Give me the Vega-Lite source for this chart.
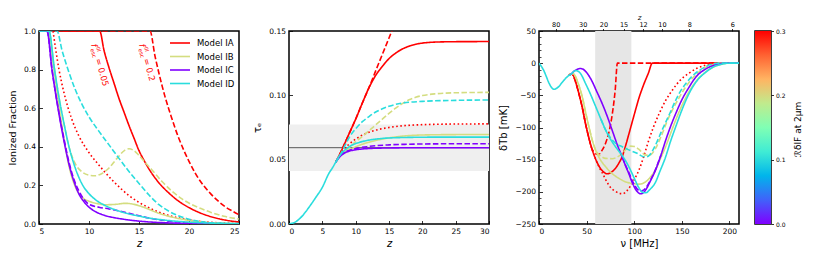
{
"$schema": "https://vega.github.io/schema/vega-lite/v6.json",
"padding": {"left": 6, "top": 12, "right": 5, "bottom": 5},
"bounds": "flush",
"spacing": 50,
"config": {
  "font": "DejaVu Sans",
  "view": {"stroke": "black", "strokeWidth": 1.5},
  "axis": {"domain": false, "grid": false, "labelOverlap": false, "tickColor": "black", "tickSize": -3.5, "tickWidth": 0.8, "labelFontSize": 7.5, "labelColor": "black", "labelPadding": 7, "titleFontSize": 9.5, "titleFontWeight": "normal", "titleColor": "black", "labelFont": "DejaVu Sans", "titleFont": "DejaVu Sans"}
},
"datasets": {
  "ann": [{"z": 10.5, "x": 0.933, "v": "= 0.05"}, {"z": 15.3, "x": 0.933, "v": "= 0.2"}],
  "p1": [
{"m":"IA","s":"solid","z":5,"x":1},{"m":"IA","s":"solid","z":11.07,"x":1},{"m":"IA","s":"solid","z":11.5,"x":0.9},{"m":"IA","s":"solid","z":12,"x":0.81},{"m":"IA","s":"solid","z":12.5,"x":0.73},{"m":"IA","s":"solid","z":13,"x":0.65},{"m":"IA","s":"solid","z":13.5,"x":0.58},{"m":"IA","s":"solid","z":14,"x":0.51},{"m":"IA","s":"solid","z":14.5,"x":0.445},{"m":"IA","s":"solid","z":15,"x":0.38},{"m":"IA","s":"solid","z":15.5,"x":0.33},{"m":"IA","s":"solid","z":16,"x":0.285},{"m":"IA","s":"solid","z":17,"x":0.213},{"m":"IA","s":"solid","z":18,"x":0.16},{"m":"IA","s":"solid","z":19,"x":0.117},{"m":"IA","s":"solid","z":20,"x":0.085},{"m":"IA","s":"solid","z":21,"x":0.06},{"m":"IA","s":"solid","z":22,"x":0.041},{"m":"IA","s":"solid","z":23,"x":0.027},{"m":"IA","s":"solid","z":24,"x":0.017},{"m":"IA","s":"solid","z":25,"x":0.01},
{"m":"IA","s":"dashed","z":5,"x":1},{"m":"IA","s":"dashed","z":16.1,"x":1},{"m":"IA","s":"dashed","z":16.6,"x":0.87},{"m":"IA","s":"dashed","z":17,"x":0.78},{"m":"IA","s":"dashed","z":17.6,"x":0.66},{"m":"IA","s":"dashed","z":18.2,"x":0.56},{"m":"IA","s":"dashed","z":18.9,"x":0.455},{"m":"IA","s":"dashed","z":19.5,"x":0.38},{"m":"IA","s":"dashed","z":20,"x":0.325},{"m":"IA","s":"dashed","z":20.6,"x":0.265},{"m":"IA","s":"dashed","z":21.3,"x":0.21},{"m":"IA","s":"dashed","z":22.2,"x":0.155},{"m":"IA","s":"dashed","z":23,"x":0.115},{"m":"IA","s":"dashed","z":23.6,"x":0.09},{"m":"IA","s":"dashed","z":24.3,"x":0.068},{"m":"IA","s":"dashed","z":25,"x":0.048},
{"m":"IA","s":"dotted","z":6.4,"x":1},{"m":"IA","s":"dotted","z":7,"x":0.8},{"m":"IA","s":"dotted","z":7.5,"x":0.68},{"m":"IA","s":"dotted","z":8.3,"x":0.54},{"m":"IA","s":"dotted","z":9,"x":0.455},{"m":"IA","s":"dotted","z":10,"x":0.37},{"m":"IA","s":"dotted","z":11,"x":0.305},{"m":"IA","s":"dotted","z":11.6,"x":0.268},{"m":"IA","s":"dotted","z":12.5,"x":0.218},{"m":"IA","s":"dotted","z":13.3,"x":0.178},{"m":"IA","s":"dotted","z":14,"x":0.147},{"m":"IA","s":"dotted","z":15,"x":0.112},{"m":"IA","s":"dotted","z":16,"x":0.084},{"m":"IA","s":"dotted","z":16.6,"x":0.07},{"m":"IA","s":"dotted","z":17.5,"x":0.052},{"m":"IA","s":"dotted","z":18.9,"x":0.032},{"m":"IA","s":"dotted","z":20,"x":0.021},{"m":"IA","s":"dotted","z":21.6,"x":0.011},{"m":"IA","s":"dotted","z":23,"x":0.006},{"m":"IA","s":"dotted","z":25,"x":0.002},
{"m":"IB","s":"solid","z":5,"x":1},{"m":"IB","s":"solid","z":5.9,"x":1},{"m":"IB","s":"solid","z":6.5,"x":0.8},{"m":"IB","s":"solid","z":7,"x":0.61},{"m":"IB","s":"solid","z":7.5,"x":0.44},{"m":"IB","s":"solid","z":8,"x":0.3},{"m":"IB","s":"solid","z":8.5,"x":0.21},{"m":"IB","s":"solid","z":9,"x":0.158},{"m":"IB","s":"solid","z":9.5,"x":0.13},{"m":"IB","s":"solid","z":10,"x":0.118},{"m":"IB","s":"solid","z":10.8,"x":0.106},{"m":"IB","s":"solid","z":11.6,"x":0.1},{"m":"IB","s":"solid","z":12.5,"x":0.101},{"m":"IB","s":"solid","z":13.6,"x":0.107},{"m":"IB","s":"solid","z":14.3,"x":0.104},{"m":"IB","s":"solid","z":15,"x":0.095},{"m":"IB","s":"solid","z":15.8,"x":0.08},{"m":"IB","s":"solid","z":16.6,"x":0.063},{"m":"IB","s":"solid","z":17.5,"x":0.047},{"m":"IB","s":"solid","z":18.3,"x":0.036},{"m":"IB","s":"solid","z":19.5,"x":0.023},{"m":"IB","s":"solid","z":20.6,"x":0.014},{"m":"IB","s":"solid","z":22,"x":0.007},{"m":"IB","s":"solid","z":23.2,"x":0.004},{"m":"IB","s":"solid","z":25,"x":0.001},
{"m":"IB","s":"dashed","z":5,"x":1},{"m":"IB","s":"dashed","z":6,"x":1},{"m":"IB","s":"dashed","z":6.5,"x":0.82},{"m":"IB","s":"dashed","z":7,"x":0.655},{"m":"IB","s":"dashed","z":7.5,"x":0.52},{"m":"IB","s":"dashed","z":8,"x":0.4},{"m":"IB","s":"dashed","z":8.6,"x":0.315},{"m":"IB","s":"dashed","z":9.3,"x":0.27},{"m":"IB","s":"dashed","z":10,"x":0.253},{"m":"IB","s":"dashed","z":10.6,"x":0.25},{"m":"IB","s":"dashed","z":11.3,"x":0.262},{"m":"IB","s":"dashed","z":12,"x":0.29},{"m":"IB","s":"dashed","z":12.8,"x":0.34},{"m":"IB","s":"dashed","z":13.6,"x":0.383},{"m":"IB","s":"dashed","z":14,"x":0.39},{"m":"IB","s":"dashed","z":14.5,"x":0.38},{"m":"IB","s":"dashed","z":15,"x":0.355},{"m":"IB","s":"dashed","z":15.6,"x":0.32},{"m":"IB","s":"dashed","z":16.3,"x":0.28},{"m":"IB","s":"dashed","z":17.3,"x":0.22},{"m":"IB","s":"dashed","z":18.3,"x":0.17},{"m":"IB","s":"dashed","z":19.3,"x":0.13},{"m":"IB","s":"dashed","z":20.3,"x":0.1},{"m":"IB","s":"dashed","z":21.2,"x":0.08},{"m":"IB","s":"dashed","z":22.2,"x":0.06},{"m":"IB","s":"dashed","z":23.5,"x":0.04},{"m":"IB","s":"dashed","z":25,"x":0.026},
{"m":"IC","s":"solid","z":5,"x":1},{"m":"IC","s":"solid","z":5.8,"x":1},{"m":"IC","s":"solid","z":6.3,"x":0.8},{"m":"IC","s":"solid","z":7,"x":0.57},{"m":"IC","s":"solid","z":7.5,"x":0.43},{"m":"IC","s":"solid","z":8,"x":0.31},{"m":"IC","s":"solid","z":8.5,"x":0.22},{"m":"IC","s":"solid","z":9,"x":0.155},{"m":"IC","s":"solid","z":9.5,"x":0.115},{"m":"IC","s":"solid","z":10,"x":0.087},{"m":"IC","s":"solid","z":10.8,"x":0.06},{"m":"IC","s":"solid","z":11.6,"x":0.044},{"m":"IC","s":"solid","z":12.5,"x":0.033},{"m":"IC","s":"solid","z":13.3,"x":0.026},{"m":"IC","s":"solid","z":15,"x":0.015},{"m":"IC","s":"solid","z":16.5,"x":0.009},{"m":"IC","s":"solid","z":18.3,"x":0.005},{"m":"IC","s":"solid","z":20,"x":0.003},{"m":"IC","s":"solid","z":25,"x":0.001},
{"m":"IC","s":"dashed","z":5,"x":1},{"m":"IC","s":"dashed","z":5.8,"x":1},{"m":"IC","s":"dashed","z":6.3,"x":0.8},{"m":"IC","s":"dashed","z":7,"x":0.575},{"m":"IC","s":"dashed","z":7.5,"x":0.44},{"m":"IC","s":"dashed","z":8,"x":0.32},{"m":"IC","s":"dashed","z":8.5,"x":0.23},{"m":"IC","s":"dashed","z":9,"x":0.17},{"m":"IC","s":"dashed","z":9.5,"x":0.127},{"m":"IC","s":"dashed","z":10,"x":0.102},{"m":"IC","s":"dashed","z":11,"x":0.087},{"m":"IC","s":"dashed","z":12,"x":0.078},{"m":"IC","s":"dashed","z":13,"x":0.068},{"m":"IC","s":"dashed","z":14,"x":0.055},{"m":"IC","s":"dashed","z":15,"x":0.043},{"m":"IC","s":"dashed","z":16,"x":0.031},{"m":"IC","s":"dashed","z":17,"x":0.022},{"m":"IC","s":"dashed","z":18,"x":0.015},{"m":"IC","s":"dashed","z":20,"x":0.006},{"m":"IC","s":"dashed","z":22,"x":0.002},{"m":"IC","s":"dashed","z":25,"x":0.0005},
{"m":"ID","s":"solid","z":5,"x":1},{"m":"ID","s":"solid","z":6,"x":1},{"m":"ID","s":"solid","z":6.5,"x":0.82},{"m":"ID","s":"solid","z":7,"x":0.655},{"m":"ID","s":"solid","z":7.5,"x":0.52},{"m":"ID","s":"solid","z":8,"x":0.4},{"m":"ID","s":"solid","z":8.5,"x":0.31},{"m":"ID","s":"solid","z":9,"x":0.24},{"m":"ID","s":"solid","z":9.5,"x":0.19},{"m":"ID","s":"solid","z":10,"x":0.157},{"m":"ID","s":"solid","z":10.8,"x":0.12},{"m":"ID","s":"solid","z":11.6,"x":0.096},{"m":"ID","s":"solid","z":12.5,"x":0.076},{"m":"ID","s":"solid","z":13.3,"x":0.062},{"m":"ID","s":"solid","z":14,"x":0.052},{"m":"ID","s":"solid","z":15,"x":0.041},{"m":"ID","s":"solid","z":16,"x":0.031},{"m":"ID","s":"solid","z":17.6,"x":0.02},{"m":"ID","s":"solid","z":19.9,"x":0.01},{"m":"ID","s":"solid","z":22,"x":0.005},{"m":"ID","s":"solid","z":25,"x":0.002},
{"m":"ID","s":"dashed","z":5,"x":1},{"m":"ID","s":"dashed","z":6.8,"x":1},{"m":"ID","s":"dashed","z":7.3,"x":0.9},{"m":"ID","s":"dashed","z":8,"x":0.785},{"m":"ID","s":"dashed","z":8.6,"x":0.7},{"m":"ID","s":"dashed","z":9.3,"x":0.62},{"m":"ID","s":"dashed","z":10,"x":0.555},{"m":"ID","s":"dashed","z":11,"x":0.48},{"m":"ID","s":"dashed","z":12,"x":0.41},{"m":"ID","s":"dashed","z":13,"x":0.34},{"m":"ID","s":"dashed","z":14,"x":0.272},{"m":"ID","s":"dashed","z":15,"x":0.21},{"m":"ID","s":"dashed","z":16,"x":0.15},{"m":"ID","s":"dashed","z":17,"x":0.1},{"m":"ID","s":"dashed","z":18,"x":0.066},{"m":"ID","s":"dashed","z":19,"x":0.041},{"m":"ID","s":"dashed","z":20,"x":0.025},{"m":"ID","s":"dashed","z":21,"x":0.014},{"m":"ID","s":"dashed","z":22.2,"x":0.006},{"m":"ID","s":"dashed","z":25,"x":0.001}
  ],
  "p2": [
{"m":"IA","s":"solid","z":7,"t":0.048},{"m":"IA","s":"solid","z":7.5,"t":0.053},{"m":"IA","s":"solid","z":8,"t":0.0585},{"m":"IA","s":"solid","z":9,"t":0.07},{"m":"IA","s":"solid","z":10,"t":0.0815},{"m":"IA","s":"solid","z":11,"t":0.094},{"m":"IA","s":"solid","z":12,"t":0.106},{"m":"IA","s":"solid","z":12.5,"t":0.111},{"m":"IA","s":"solid","z":13,"t":0.1155},{"m":"IA","s":"solid","z":14,"t":0.1225},{"m":"IA","s":"solid","z":15,"t":0.1285},{"m":"IA","s":"solid","z":16,"t":0.1328},{"m":"IA","s":"solid","z":17,"t":0.136},{"m":"IA","s":"solid","z":18,"t":0.1382},{"m":"IA","s":"solid","z":19,"t":0.1397},{"m":"IA","s":"solid","z":20,"t":0.1406},{"m":"IA","s":"solid","z":22,"t":0.1414},{"m":"IA","s":"solid","z":25,"t":0.1417},{"m":"IA","s":"solid","z":30,"t":0.1418},
{"m":"IA","s":"dashed","z":7,"t":0.048},{"m":"IA","s":"dashed","z":7.5,"t":0.053},{"m":"IA","s":"dashed","z":8,"t":0.0585},{"m":"IA","s":"dashed","z":9,"t":0.07},{"m":"IA","s":"dashed","z":10,"t":0.0815},{"m":"IA","s":"dashed","z":11,"t":0.094},{"m":"IA","s":"dashed","z":12,"t":0.106},{"m":"IA","s":"dashed","z":13,"t":0.119},{"m":"IA","s":"dashed","z":14,"t":0.1318},{"m":"IA","s":"dashed","z":15,"t":0.1446},{"m":"IA","s":"dashed","z":15.9,"t":0.156},
{"m":"IA","s":"dotted","z":7,"t":0.048},{"m":"IA","s":"dotted","z":7.5,"t":0.053},{"m":"IA","s":"dotted","z":8,"t":0.0565},{"m":"IA","s":"dotted","z":9,"t":0.062},{"m":"IA","s":"dotted","z":10,"t":0.066},{"m":"IA","s":"dotted","z":11,"t":0.069},{"m":"IA","s":"dotted","z":12.4,"t":0.072},{"m":"IA","s":"dotted","z":15,"t":0.075},{"m":"IA","s":"dotted","z":20,"t":0.0772},{"m":"IA","s":"dotted","z":25,"t":0.0777},{"m":"IA","s":"dotted","z":30,"t":0.0778},
{"m":"IB","s":"solid","z":7,"t":0.048},{"m":"IB","s":"solid","z":7.5,"t":0.052},{"m":"IB","s":"solid","z":8,"t":0.0548},{"m":"IB","s":"solid","z":9,"t":0.0575},{"m":"IB","s":"solid","z":10,"t":0.06},{"m":"IB","s":"solid","z":11,"t":0.062},{"m":"IB","s":"solid","z":12,"t":0.0636},{"m":"IB","s":"solid","z":14,"t":0.066},{"m":"IB","s":"solid","z":16,"t":0.0677},{"m":"IB","s":"solid","z":18,"t":0.0687},{"m":"IB","s":"solid","z":21,"t":0.0693},{"m":"IB","s":"solid","z":25,"t":0.0695},{"m":"IB","s":"solid","z":30,"t":0.0696},
{"m":"IB","s":"dashed","z":7,"t":0.048},{"m":"IB","s":"dashed","z":7.5,"t":0.052},{"m":"IB","s":"dashed","z":8,"t":0.0548},{"m":"IB","s":"dashed","z":9,"t":0.059},{"m":"IB","s":"dashed","z":10,"t":0.064},{"m":"IB","s":"dashed","z":11,"t":0.068},{"m":"IB","s":"dashed","z":12,"t":0.0725},{"m":"IB","s":"dashed","z":13,"t":0.077},{"m":"IB","s":"dashed","z":14,"t":0.0815},{"m":"IB","s":"dashed","z":15,"t":0.086},{"m":"IB","s":"dashed","z":16,"t":0.09},{"m":"IB","s":"dashed","z":17,"t":0.0935},{"m":"IB","s":"dashed","z":18,"t":0.0965},{"m":"IB","s":"dashed","z":19,"t":0.0985},{"m":"IB","s":"dashed","z":20,"t":0.0998},{"m":"IB","s":"dashed","z":22,"t":0.1012},{"m":"IB","s":"dashed","z":25,"t":0.102},{"m":"IB","s":"dashed","z":30,"t":0.1023},
{"m":"IC","s":"solid","z":7,"t":0.048},{"m":"IC","s":"solid","z":7.5,"t":0.0515},{"m":"IC","s":"solid","z":8,"t":0.054},{"m":"IC","s":"solid","z":8.5,"t":0.0556},{"m":"IC","s":"solid","z":9,"t":0.0566},{"m":"IC","s":"solid","z":10,"t":0.0577},{"m":"IC","s":"solid","z":11,"t":0.0583},{"m":"IC","s":"solid","z":12,"t":0.0587},{"m":"IC","s":"solid","z":15,"t":0.0591},{"m":"IC","s":"solid","z":20,"t":0.0593},{"m":"IC","s":"solid","z":30,"t":0.0593},
{"m":"IC","s":"dashed","z":7,"t":0.048},{"m":"IC","s":"dashed","z":7.5,"t":0.052},{"m":"IC","s":"dashed","z":8,"t":0.0545},{"m":"IC","s":"dashed","z":9,"t":0.0572},{"m":"IC","s":"dashed","z":10,"t":0.0587},{"m":"IC","s":"dashed","z":12,"t":0.0603},{"m":"IC","s":"dashed","z":15,"t":0.0615},{"m":"IC","s":"dashed","z":18,"t":0.062},{"m":"IC","s":"dashed","z":22,"t":0.0623},{"m":"IC","s":"dashed","z":30,"t":0.0624},
{"m":"ID","s":"dashed","z":7,"t":0.048},{"m":"ID","s":"dashed","z":7.5,"t":0.052},{"m":"ID","s":"dashed","z":8,"t":0.057},{"m":"ID","s":"dashed","z":8.5,"t":0.062},{"m":"ID","s":"dashed","z":9,"t":0.067},{"m":"ID","s":"dashed","z":10,"t":0.074},{"m":"ID","s":"dashed","z":11,"t":0.0795},{"m":"ID","s":"dashed","z":12,"t":0.0835},{"m":"ID","s":"dashed","z":13,"t":0.087},{"m":"ID","s":"dashed","z":14,"t":0.0895},{"m":"ID","s":"dashed","z":15,"t":0.0915},{"m":"ID","s":"dashed","z":17,"t":0.094},{"m":"ID","s":"dashed","z":20,"t":0.0953},{"m":"ID","s":"dashed","z":25,"t":0.0961},{"m":"ID","s":"dashed","z":30,"t":0.0964},
{"m":"ID","s":"solid","z":0,"t":0},{"m":"ID","s":"solid","z":1,"t":0.0017},{"m":"ID","s":"solid","z":2,"t":0.0063},{"m":"ID","s":"solid","z":2.5,"t":0.0095},{"m":"ID","s":"solid","z":3,"t":0.013},{"m":"ID","s":"solid","z":4,"t":0.0205},{"m":"ID","s":"solid","z":5,"t":0.0285},{"m":"ID","s":"solid","z":6,"t":0.0395},{"m":"ID","s":"solid","z":6.5,"t":0.0435},{"m":"ID","s":"solid","z":7,"t":0.048},{"m":"ID","s":"solid","z":7.5,"t":0.0525},{"m":"ID","s":"solid","z":8,"t":0.0556},{"m":"ID","s":"solid","z":8.5,"t":0.058},{"m":"ID","s":"solid","z":9,"t":0.06},{"m":"ID","s":"solid","z":10,"t":0.0625},{"m":"ID","s":"solid","z":11,"t":0.0641},{"m":"ID","s":"solid","z":12,"t":0.0652},{"m":"ID","s":"solid","z":14,"t":0.0665},{"m":"ID","s":"solid","z":17,"t":0.0672},{"m":"ID","s":"solid","z":22,"t":0.0675},{"m":"ID","s":"solid","z":30,"t":0.0675}
  ],
  "p3": [
{"m":"IA","s":"solid","n":31.5,"T":-19},{"m":"IA","s":"solid","n":34,"T":-16.5},{"m":"IA","s":"solid","n":36,"T":-19},{"m":"IA","s":"solid","n":38,"T":-27},{"m":"IA","s":"solid","n":40,"T":-37},{"m":"IA","s":"solid","n":42,"T":-48},{"m":"IA","s":"solid","n":45,"T":-66},{"m":"IA","s":"solid","n":49,"T":-95},{"m":"IA","s":"solid","n":52,"T":-114},{"m":"IA","s":"solid","n":56,"T":-135},{"m":"IA","s":"solid","n":60,"T":-151},{"m":"IA","s":"solid","n":63,"T":-160},{"m":"IA","s":"solid","n":67,"T":-168},{"m":"IA","s":"solid","n":71.5,"T":-172},{"m":"IA","s":"solid","n":75,"T":-170.5},{"m":"IA","s":"solid","n":78,"T":-167},{"m":"IA","s":"solid","n":81,"T":-162},{"m":"IA","s":"solid","n":84,"T":-155},{"m":"IA","s":"solid","n":87.4,"T":-145},{"m":"IA","s":"solid","n":91,"T":-128},{"m":"IA","s":"solid","n":94.4,"T":-110},{"m":"IA","s":"solid","n":100,"T":-80},{"m":"IA","s":"solid","n":105,"T":-54},{"m":"IA","s":"solid","n":110,"T":-33},{"m":"IA","s":"solid","n":115,"T":-15},{"m":"IA","s":"solid","n":119,"T":0},{"m":"IA","s":"solid","n":210,"T":0},
{"m":"IA","s":"dashed","n":31.5,"T":-19},{"m":"IA","s":"dashed","n":34,"T":-16.5},{"m":"IA","s":"dashed","n":36,"T":-19},{"m":"IA","s":"dashed","n":38,"T":-27},{"m":"IA","s":"dashed","n":40,"T":-37},{"m":"IA","s":"dashed","n":42,"T":-48},{"m":"IA","s":"dashed","n":45,"T":-66},{"m":"IA","s":"dashed","n":49,"T":-95},{"m":"IA","s":"dashed","n":52,"T":-114},{"m":"IA","s":"dashed","n":55,"T":-131},{"m":"IA","s":"dashed","n":57.5,"T":-138},{"m":"IA","s":"dashed","n":60,"T":-141},{"m":"IA","s":"dashed","n":63,"T":-141.5},{"m":"IA","s":"dashed","n":66,"T":-136},{"m":"IA","s":"dashed","n":70,"T":-124},{"m":"IA","s":"dashed","n":73,"T":-110},{"m":"IA","s":"dashed","n":76,"T":-88},{"m":"IA","s":"dashed","n":78,"T":-68},{"m":"IA","s":"dashed","n":80,"T":-42},{"m":"IA","s":"dashed","n":82.3,"T":0},{"m":"IA","s":"dashed","n":210,"T":0},
{"m":"IA","s":"dotted","n":31.5,"T":-19},{"m":"IA","s":"dotted","n":34,"T":-16.5},{"m":"IA","s":"dotted","n":36,"T":-19},{"m":"IA","s":"dotted","n":38,"T":-27},{"m":"IA","s":"dotted","n":40,"T":-37},{"m":"IA","s":"dotted","n":42,"T":-48},{"m":"IA","s":"dotted","n":45,"T":-66},{"m":"IA","s":"dotted","n":49,"T":-95},{"m":"IA","s":"dotted","n":52,"T":-114},{"m":"IA","s":"dotted","n":56,"T":-135},{"m":"IA","s":"dotted","n":60,"T":-151},{"m":"IA","s":"dotted","n":63,"T":-161},{"m":"IA","s":"dotted","n":67,"T":-172},{"m":"IA","s":"dotted","n":70,"T":-181},{"m":"IA","s":"dotted","n":75,"T":-193},{"m":"IA","s":"dotted","n":80,"T":-199},{"m":"IA","s":"dotted","n":85,"T":-202.5},{"m":"IA","s":"dotted","n":88,"T":-203},{"m":"IA","s":"dotted","n":92,"T":-199},{"m":"IA","s":"dotted","n":96,"T":-191},{"m":"IA","s":"dotted","n":100,"T":-181},{"m":"IA","s":"dotted","n":105,"T":-166},{"m":"IA","s":"dotted","n":110,"T":-145},{"m":"IA","s":"dotted","n":115,"T":-121},{"m":"IA","s":"dotted","n":120,"T":-100},{"m":"IA","s":"dotted","n":126,"T":-79},{"m":"IA","s":"dotted","n":133,"T":-58},{"m":"IA","s":"dotted","n":140,"T":-42},{"m":"IA","s":"dotted","n":148,"T":-27},{"m":"IA","s":"dotted","n":157,"T":-16},{"m":"IA","s":"dotted","n":165,"T":-8.5},{"m":"IA","s":"dotted","n":175,"T":-3},{"m":"IA","s":"dotted","n":183,"T":0},{"m":"IA","s":"dotted","n":210,"T":0},
{"m":"IB","s":"solid","n":31.5,"T":-19},{"m":"IB","s":"solid","n":34,"T":-16.5},{"m":"IB","s":"solid","n":36,"T":-16.5},{"m":"IB","s":"solid","n":38,"T":-20},{"m":"IB","s":"solid","n":40,"T":-27},{"m":"IB","s":"solid","n":43,"T":-40},{"m":"IB","s":"solid","n":45.5,"T":-53},{"m":"IB","s":"solid","n":49,"T":-77},{"m":"IB","s":"solid","n":52.4,"T":-99},{"m":"IB","s":"solid","n":56,"T":-120},{"m":"IB","s":"solid","n":59.4,"T":-135},{"m":"IB","s":"solid","n":64,"T":-149},{"m":"IB","s":"solid","n":70,"T":-161},{"m":"IB","s":"solid","n":77,"T":-172},{"m":"IB","s":"solid","n":83.9,"T":-179},{"m":"IB","s":"solid","n":90,"T":-184},{"m":"IB","s":"solid","n":97.9,"T":-187},{"m":"IB","s":"solid","n":105,"T":-188},{"m":"IB","s":"solid","n":111.9,"T":-184.5},{"m":"IB","s":"solid","n":117,"T":-177},{"m":"IB","s":"solid","n":122.4,"T":-166},{"m":"IB","s":"solid","n":127,"T":-150},{"m":"IB","s":"solid","n":132.9,"T":-130},{"m":"IB","s":"solid","n":138,"T":-110},{"m":"IB","s":"solid","n":143.4,"T":-89},{"m":"IB","s":"solid","n":150,"T":-66},{"m":"IB","s":"solid","n":157.3,"T":-45},{"m":"IB","s":"solid","n":165,"T":-28},{"m":"IB","s":"solid","n":174.8,"T":-14},{"m":"IB","s":"solid","n":183,"T":-6},{"m":"IB","s":"solid","n":192,"T":-1.5},{"m":"IB","s":"solid","n":200,"T":0},{"m":"IB","s":"solid","n":210,"T":0},
{"m":"IB","s":"dashed","n":31.5,"T":-19},{"m":"IB","s":"dashed","n":34,"T":-16.5},{"m":"IB","s":"dashed","n":36,"T":-16.5},{"m":"IB","s":"dashed","n":38,"T":-20},{"m":"IB","s":"dashed","n":40,"T":-27},{"m":"IB","s":"dashed","n":43,"T":-40},{"m":"IB","s":"dashed","n":45.5,"T":-53},{"m":"IB","s":"dashed","n":49,"T":-77},{"m":"IB","s":"dashed","n":52.4,"T":-99},{"m":"IB","s":"dashed","n":56,"T":-120},{"m":"IB","s":"dashed","n":59.4,"T":-135},{"m":"IB","s":"dashed","n":62,"T":-141},{"m":"IB","s":"dashed","n":66.4,"T":-146},{"m":"IB","s":"dashed","n":70,"T":-148},{"m":"IB","s":"dashed","n":77,"T":-148.5},{"m":"IB","s":"dashed","n":82,"T":-146},{"m":"IB","s":"dashed","n":87.4,"T":-140.5},{"m":"IB","s":"dashed","n":92,"T":-133},{"m":"IB","s":"dashed","n":96,"T":-129},{"m":"IB","s":"dashed","n":100,"T":-129.5},{"m":"IB","s":"dashed","n":105,"T":-134},{"m":"IB","s":"dashed","n":109,"T":-140},{"m":"IB","s":"dashed","n":112,"T":-143},{"m":"IB","s":"dashed","n":116,"T":-143},{"m":"IB","s":"dashed","n":119,"T":-140},{"m":"IB","s":"dashed","n":124,"T":-128},{"m":"IB","s":"dashed","n":129,"T":-111},{"m":"IB","s":"dashed","n":134,"T":-92},{"m":"IB","s":"dashed","n":140,"T":-73},{"m":"IB","s":"dashed","n":147,"T":-54},{"m":"IB","s":"dashed","n":154,"T":-37},{"m":"IB","s":"dashed","n":162,"T":-22},{"m":"IB","s":"dashed","n":171,"T":-10},{"m":"IB","s":"dashed","n":180,"T":-3.5},{"m":"IB","s":"dashed","n":189,"T":0},{"m":"IB","s":"dashed","n":210,"T":0},
{"m":"IC","s":"solid","n":31.5,"T":-19},{"m":"IC","s":"solid","n":34,"T":-16.5},{"m":"IC","s":"solid","n":36,"T":-13.5},{"m":"IC","s":"solid","n":38.5,"T":-10.8},{"m":"IC","s":"solid","n":41,"T":-9},{"m":"IC","s":"solid","n":43.5,"T":-8.3},{"m":"IC","s":"solid","n":46,"T":-9.2},{"m":"IC","s":"solid","n":49,"T":-13},{"m":"IC","s":"solid","n":53,"T":-21},{"m":"IC","s":"solid","n":56,"T":-29},{"m":"IC","s":"solid","n":60,"T":-42},{"m":"IC","s":"solid","n":66.4,"T":-63},{"m":"IC","s":"solid","n":72,"T":-84},{"m":"IC","s":"solid","n":77,"T":-105},{"m":"IC","s":"solid","n":82,"T":-126},{"m":"IC","s":"solid","n":87.4,"T":-146},{"m":"IC","s":"solid","n":91,"T":-160},{"m":"IC","s":"solid","n":94.4,"T":-172},{"m":"IC","s":"solid","n":98,"T":-186},{"m":"IC","s":"solid","n":101.4,"T":-196},{"m":"IC","s":"solid","n":104,"T":-201},{"m":"IC","s":"solid","n":106.6,"T":-203},{"m":"IC","s":"solid","n":109,"T":-202},{"m":"IC","s":"solid","n":112,"T":-197},{"m":"IC","s":"solid","n":117,"T":-183},{"m":"IC","s":"solid","n":122.4,"T":-166},{"m":"IC","s":"solid","n":128,"T":-143},{"m":"IC","s":"solid","n":133,"T":-120},{"m":"IC","s":"solid","n":138,"T":-99},{"m":"IC","s":"solid","n":143.4,"T":-79},{"m":"IC","s":"solid","n":150,"T":-57},{"m":"IC","s":"solid","n":157.3,"T":-38},{"m":"IC","s":"solid","n":165,"T":-21},{"m":"IC","s":"solid","n":174.8,"T":-9.3},{"m":"IC","s":"solid","n":185,"T":-2.5},{"m":"IC","s":"solid","n":196,"T":0},{"m":"IC","s":"solid","n":210,"T":0},
{"m":"IC","s":"dashed","n":87.4,"T":-146},{"m":"IC","s":"dashed","n":91,"T":-159},{"m":"IC","s":"dashed","n":94.4,"T":-170},{"m":"IC","s":"dashed","n":98,"T":-183},{"m":"IC","s":"dashed","n":101.4,"T":-192},{"m":"IC","s":"dashed","n":104,"T":-197},{"m":"IC","s":"dashed","n":106.6,"T":-199},{"m":"IC","s":"dashed","n":109,"T":-198},{"m":"IC","s":"dashed","n":112,"T":-194},{"m":"IC","s":"dashed","n":117,"T":-182},{"m":"IC","s":"dashed","n":122.4,"T":-165},{"m":"IC","s":"dashed","n":128,"T":-143},
{"m":"ID","s":"dashed","n":65,"T":-87},{"m":"ID","s":"dashed","n":70,"T":-104},{"m":"ID","s":"dashed","n":75,"T":-116},{"m":"ID","s":"dashed","n":80,"T":-124},{"m":"ID","s":"dashed","n":87.4,"T":-130},{"m":"ID","s":"dashed","n":93,"T":-134},{"m":"ID","s":"dashed","n":98,"T":-137},{"m":"ID","s":"dashed","n":103,"T":-140},{"m":"ID","s":"dashed","n":108,"T":-144.5},{"m":"ID","s":"dashed","n":112,"T":-146},{"m":"ID","s":"dashed","n":116,"T":-143},{"m":"ID","s":"dashed","n":120,"T":-134},{"m":"ID","s":"dashed","n":124,"T":-122},{"m":"ID","s":"dashed","n":128,"T":-108},{"m":"ID","s":"dashed","n":133,"T":-92},{"m":"ID","s":"dashed","n":138,"T":-76},{"m":"ID","s":"dashed","n":143.4,"T":-58},{"m":"ID","s":"dashed","n":148,"T":-45},{"m":"ID","s":"dashed","n":154,"T":-32},{"m":"ID","s":"dashed","n":161,"T":-20},{"m":"ID","s":"dashed","n":168,"T":-11.5},{"m":"ID","s":"dashed","n":175,"T":-5.5},{"m":"ID","s":"dashed","n":182,"T":-1.5},{"m":"ID","s":"dashed","n":189,"T":0},{"m":"ID","s":"dashed","n":210,"T":0},
{"m":"ID","s":"solid","n":0,"T":0},{"m":"ID","s":"solid","n":2.5,"T":-5},{"m":"ID","s":"solid","n":5.2,"T":-12},{"m":"ID","s":"solid","n":8,"T":-22},{"m":"ID","s":"solid","n":10.5,"T":-31},{"m":"ID","s":"solid","n":13,"T":-37.5},{"m":"ID","s":"solid","n":15.7,"T":-40.5},{"m":"ID","s":"solid","n":18,"T":-39.5},{"m":"ID","s":"solid","n":21,"T":-36},{"m":"ID","s":"solid","n":24,"T":-30.5},{"m":"ID","s":"solid","n":26.5,"T":-26},{"m":"ID","s":"solid","n":29,"T":-22},{"m":"ID","s":"solid","n":31.5,"T":-19},{"m":"ID","s":"solid","n":34,"T":-16.5},{"m":"ID","s":"solid","n":36,"T":-13.5},{"m":"ID","s":"solid","n":38.5,"T":-11.5},{"m":"ID","s":"solid","n":41,"T":-12.5},{"m":"ID","s":"solid","n":44,"T":-17},{"m":"ID","s":"solid","n":49,"T":-32},{"m":"ID","s":"solid","n":54,"T":-48},{"m":"ID","s":"solid","n":59.4,"T":-67},{"m":"ID","s":"solid","n":65,"T":-87},{"m":"ID","s":"solid","n":70,"T":-104},{"m":"ID","s":"solid","n":75,"T":-118},{"m":"ID","s":"solid","n":80.4,"T":-130},{"m":"ID","s":"solid","n":86,"T":-141},{"m":"ID","s":"solid","n":91,"T":-152},{"m":"ID","s":"solid","n":96,"T":-166},{"m":"ID","s":"solid","n":101,"T":-182},{"m":"ID","s":"solid","n":105,"T":-194},{"m":"ID","s":"solid","n":108.5,"T":-200.5},{"m":"ID","s":"solid","n":112,"T":-201.5},{"m":"ID","s":"solid","n":116,"T":-197},{"m":"ID","s":"solid","n":122,"T":-186},{"m":"ID","s":"solid","n":127,"T":-168},{"m":"ID","s":"solid","n":132.9,"T":-146},{"m":"ID","s":"solid","n":138,"T":-122},{"m":"ID","s":"solid","n":143.4,"T":-99.5},{"m":"ID","s":"solid","n":150,"T":-73},{"m":"ID","s":"solid","n":157.3,"T":-48},{"m":"ID","s":"solid","n":165,"T":-29},{"m":"ID","s":"solid","n":174.8,"T":-14.4},{"m":"ID","s":"solid","n":183,"T":-6},{"m":"ID","s":"solid","n":192,"T":-1.5},{"m":"ID","s":"solid","n":200,"T":0},{"m":"ID","s":"solid","n":210,"T":0}
  ]
},
"resolve": {"scale": {"color": "independent", "strokeDash": "independent"}},
"hconcat": [
  {
    "width": 200, "height": 193,
    "encoding": {
      "x": {"field": "z", "type": "quantitative", "scale": {"domain": [5, 25], "nice": false}, "axis": {"values": [5, 10, 15, 20, 25], "title": "z", "titleFontStyle": "italic", "titleFontSize": 10, "titlePadding": 3}},
      "y": {"field": "x", "type": "quantitative", "scale": {"domain": [0, 1], "nice": false}, "axis": {"values": [0, 0.2, 0.4, 0.6, 0.8, 1.0], "format": ".1f", "labelOverlap": false, "title": "Ionized Fraction", "titlePadding": 6}}
    },
    "layer": [
      {
        "data": {"name": "p1"},
        "mark": {"type": "line", "interpolate": "monotone", "clip": true, "strokeWidth": 1.6},
        "encoding": {
          "color": {"field": "m", "type": "nominal", "scale": {"domain": ["IA", "IB", "IC", "ID"], "range": ["#ff0000", "#d4dd80", "#8000ff", "#2adddd"]},
            "legend": {"orient": "none", "legendX": 135, "legendY": 6, "title": null, "symbolType": "M-2,0H2", "symbolSize": 100, "symbolStrokeWidth": 1.6, "symbolFillColor": "transparent", "labelFontSize": 8.5, "labelColor": "black", "rowPadding": 2.5, "labelOffset": 11, "padding": 0, "labelExpr": "'Model ' + datum.label"}},
          "strokeDash": {"field": "s", "type": "nominal", "scale": {"domain": ["solid", "dashed", "dotted"], "range": [[1, 0], [5.5, 2.4], [1.6, 2.5]]}, "legend": null}
        }
      },
      {"data": {"name": "ann"}, "mark": {"type": "text", "angle": 74, "align": "left", "baseline": "middle", "fontSize": 8.5, "fontStyle": "italic", "color": "red", "text": "f"}},
      {"data": {"name": "ann"}, "mark": {"type": "text", "angle": 74, "align": "left", "baseline": "middle", "fontSize": 5.5, "color": "red", "text": "III", "dx": 4, "dy": -3}},
      {"data": {"name": "ann"}, "mark": {"type": "text", "angle": 74, "align": "left", "baseline": "middle", "fontSize": 5.5, "color": "red", "text": "esc", "dx": 4, "dy": 3}},
      {"data": {"name": "ann"}, "mark": {"type": "text", "angle": 74, "align": "left", "baseline": "middle", "fontSize": 8.5, "color": "red", "dx": 15}, "encoding": {"text": {"field": "v"}}}
    ]
  },
  {
    "width": 200, "height": 193,
    "layer": [
      {"data": {"values": [{"lo": 0.0412, "hi": 0.0773}]}, "mark": {"type": "rect", "color": "#efefef"}, "encoding": {"y": {"field": "lo", "type": "quantitative", "scale": {"domain": [0, 0.15], "nice": false}}, "y2": {"field": "hi"}}},
      {"data": {"values": [{"c": 0.0593}]}, "mark": {"type": "rule", "color": "#555555", "strokeWidth": 1}, "encoding": {"y": {"field": "c", "type": "quantitative"}}},
      {
        "data": {"name": "p2"},
        "mark": {"type": "line", "interpolate": "monotone", "clip": true, "strokeWidth": 1.6},
        "encoding": {
          "x": {"field": "z", "type": "quantitative", "scale": {"domain": [0, 30], "nice": false}, "axis": {"values": [0, 5, 10, 15, 20, 25, 30], "title": "z", "titleFontStyle": "italic", "titleFontSize": 10, "titlePadding": 3}},
          "y": {"field": "t", "type": "quantitative", "axis": {"values": [0, 0.05, 0.1, 0.15], "format": ".2f", "title": "τₑ", "titlePadding": 6, "titleFontSize": 10}},
          "color": {"field": "m", "type": "nominal", "scale": {"domain": ["IA", "IB", "IC", "ID"], "range": ["#ff0000", "#d4dd80", "#8000ff", "#2adddd"]}, "legend": null},
          "strokeDash": {"field": "s", "type": "nominal", "scale": {"domain": ["solid", "dashed", "dotted"], "range": [[1, 0], [5.5, 2.4], [1.6, 2.5]]}, "legend": null}
        }
      }
    ]
  },
  {
    "bounds": "flush",
    "spacing": 16,
    "resolve": {"scale": {"color": "independent", "strokeDash": "independent"}},
    "hconcat": [
      {
        "width": 200, "height": 193,
        "resolve": {"scale": {"x": "independent"}, "axis": {"x": "independent", "y": "independent"}},
        "layer": [
          {"data": {"values": [{"a": 59, "b": 97, "lo": -250, "hi": 50}]}, "mark": {"type": "rect", "color": "#e6e6e6"},
           "encoding": {"x": {"field": "a", "type": "quantitative", "scale": {"domain": [0, 210], "nice": false},
              "axis": {"orient": "top", "values": [17.536, 45.819, 67.638, 88.775, 109.262, 129.127, 157.822, 202.914], "labelExpr": "format(1420.4/datum.value - 1, '.0f')", "title": "z", "titleFontStyle": "italic", "titleFontSize": 7, "titleColor": "black", "labelColor": "black", "tickColor": "black", "labelFontSize": 6.5, "tickSize": 2.5, "labelPadding": 1.5, "titlePadding": 1, "offset": 0}},
             "x2": {"field": "b"},
             "y": {"field": "lo", "type": "quantitative", "scale": {"domain": [-250, 50], "nice": false},
              "axis": {"orient": "left", "values": [40, 30, 20, 10, -10, -20, -30, -40, -60, -70, -80, -90, -110, -120, -130, -140, -160, -170, -180, -190, -210, -220, -230, -240], "labels": false, "title": null, "tickSize": -2, "tickWidth": 0.7}},
             "y2": {"field": "hi"}}},
          {
            "data": {"name": "p3"},
            "mark": {"type": "line", "interpolate": "monotone", "clip": true, "strokeWidth": 1.6},
            "encoding": {
              "x": {"field": "n", "type": "quantitative", "scale": {"domain": [0, 210], "nice": false}, "axis": {"values": [0, 50, 100, 150, 200], "title": "ν [MHz]", "titleFontSize": 10, "titlePadding": 3}},
              "y": {"field": "T", "type": "quantitative", "scale": {"domain": [-250, 50], "nice": false}, "axis": {"orient": "left", "values": [50, 0, -50, -100, -150, -200, -250], "title": "δTb [mK]", "titlePadding": 6, "titleFontSize": 10}},
              "color": {"field": "m", "type": "nominal", "scale": {"domain": ["IA", "IB", "IC", "ID"], "range": ["#ff0000", "#d4dd80", "#8000ff", "#2adddd"]}, "legend": null},
              "strokeDash": {"field": "s", "type": "nominal", "scale": {"domain": ["solid", "dashed", "dotted"], "range": [[1, 0], [5.5, 2.4], [1.6, 2.5]]}, "legend": null}
            }
          }
        ]
      },
      {
        "width": 16, "height": 193,
        "data": {"values": [{"lo": 0, "hi": 0.3}]},
        "mark": {"type": "rect", "color": {"gradient": "linear", "x1": 0, "y1": 1, "x2": 0, "y2": 0, "stops": [
          {"offset": 0, "color": "#8000ff"}, {"offset": 0.125, "color": "#4062fa"}, {"offset": 0.25, "color": "#00b5eb"}, {"offset": 0.375, "color": "#40ecd4"}, {"offset": 0.5, "color": "#80ffb4"}, {"offset": 0.625, "color": "#c0eb8d"}, {"offset": 0.75, "color": "#ffb462"}, {"offset": 0.875, "color": "#ff6232"}, {"offset": 1, "color": "#ff0000"}]}},
        "encoding": {
          "y": {"field": "lo", "type": "quantitative", "scale": {"domain": [0, 0.3], "nice": false}, "axis": {"orient": "right", "values": [0, 0.1, 0.2, 0.3], "format": ".1f", "tickSize": 2.5, "labelFontSize": 6, "labelPadding": 2, "title": "ℛδIF at 2μm", "titleAngle": 270, "titleAlign": "center", "titleBaseline": "middle", "titleX": 26, "titleY": 98, "titleFontSize": 9}},
          "y2": {"field": "hi"}
        }
      }
    ]
  }
]
}
